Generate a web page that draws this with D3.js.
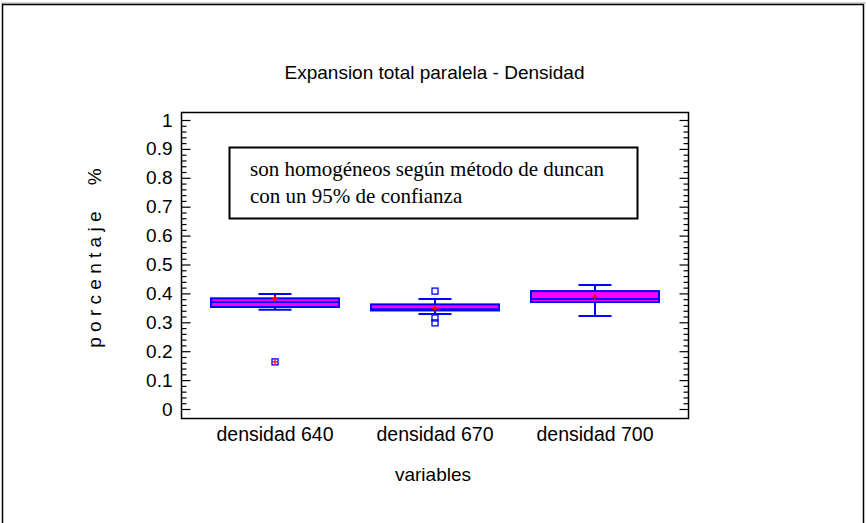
<!DOCTYPE html>
<html>
<head>
<meta charset="utf-8">
<script src="https://cdn.jsdelivr.net/npm/d3@7/dist/d3.min.js"></script>
<style>
  html, body { margin: 0; padding: 0; background: #fff; }
  svg text { font-family: Arial, "Liberation Sans", sans-serif; fill: #000; }
</style>
</head>
<body>
<svg id="chart" width="866" height="523"></svg>
<script>
// Box-plot summaries per density group
const categories = ["densidad 640", "densidad 670", "densidad 700"];
const lowerWhisker = [0.343, 0.329, 0.322];
const q1Values     = [0.353, 0.341, 0.370];
const medians      = [0.370, 0.345, 0.381];
const q3Values     = [0.383, 0.362, 0.408];
const upperWhisker = [0.398, 0.381, 0.429];
const meanValues   = [0.381, 0.349, 0.387];
// Outside points: group index and value
const outlierGroups = [0, 1, 1, 1];
const outlierValues = [0.163, 0.408, 0.315, 0.298];
const yTickValues = [0, 0.1, 0.2, 0.3, 0.4, 0.5, 0.6, 0.7, 0.8, 0.9, 1];
const yTickLabels = ["0", "0.1", "0.2", "0.3", "0.4", "0.5", "0.6", "0.7", "0.8", "0.9", "1"];
const noteLines = ["son homogéneos según método de duncan", "con un 95% de confianza"];

const svg = d3.select("#chart");
const sans = "Arial, 'Liberation Sans', sans-serif";

// Outer frame
svg.append("line").attr("x1", 1).attr("x2", 866).attr("y1", 3).attr("y2", 3)
  .attr("stroke", "#aaa").attr("stroke-width", 1);
svg.append("path").attr("d", "M2.5,530V4.5H863.5V530")
  .attr("fill", "none").attr("stroke", "#000").attr("stroke-width", 1.5);

const plot = { left: 181, right: 688, top: 112, bottom: 418 };

const y = d3.scaleLinear().domain([0, 1]).range([409, 120]);
const x = d3.scaleBand().domain(categories).range([195, 675]).padding(0);
const boxW = x.bandwidth() * 0.8;
const capW = 33;

// Plot frame
svg.append("rect")
  .attr("x", plot.left + 0.5).attr("y", plot.top + 0.5)
  .attr("width", plot.right - plot.left).attr("height", plot.bottom - plot.top)
  .attr("fill", "none").attr("stroke", "#000").attr("stroke-width", 1.5);

// Y ticks (left and right, inward), major every 0.1 and minor every 0.02
const minor = d3.range(0, 51).map(i => i * 0.02).filter(v => Math.abs(v * 10 - Math.round(v * 10)) > 1e-6);
const leftAxis = d3.axisLeft(y).tickValues(yTickValues).tickFormat((d, i) => yTickLabels[i]).tickSize(-9).tickPadding(9);
const gL = svg.append("g").attr("transform", `translate(${plot.left + 0.5},0)`).call(leftAxis);
gL.select(".domain").remove();
gL.selectAll(".tick line").attr("stroke", "#000").attr("stroke-width", 1.2);
gL.selectAll(".tick text").attr("font-size", 19).attr("font-family", sans);

const gLm = svg.append("g").attr("transform", `translate(${plot.left + 0.5},0)`)
  .call(d3.axisLeft(y).tickValues(minor).tickSize(-5).tickFormat(""));
gLm.select(".domain").remove();
gLm.selectAll(".tick line").attr("stroke", "#000").attr("stroke-width", 1.2);

const gR = svg.append("g").attr("transform", `translate(${plot.right + 0.5},0)`)
  .call(d3.axisRight(y).tickValues(yTickValues).tickSize(-9).tickFormat(""));
gR.select(".domain").remove();
gR.selectAll(".tick line").attr("stroke", "#000").attr("stroke-width", 1.2);
const gRm = svg.append("g").attr("transform", `translate(${plot.right + 0.5},0)`)
  .call(d3.axisRight(y).tickValues(minor).tickSize(-5).tickFormat(""));
gRm.select(".domain").remove();
gRm.selectAll(".tick line").attr("stroke", "#000").attr("stroke-width", 1.2);

// X category labels
const gX = svg.append("g").attr("transform", `translate(0,${plot.bottom})`)
  .call(d3.axisBottom(x).tickSize(0).tickPadding(9));
gX.select(".domain").remove();
gX.selectAll(".tick text").attr("font-size", 19.5).attr("font-family", sans);

// Boxes
const blue = "#0000ff";
const boxes = svg.append("g");
categories.forEach((c, i) => {
  const cx = x(c) + x.bandwidth() / 2;
  const g = boxes.append("g");
  // whisker stems
  g.append("line").attr("x1", cx).attr("x2", cx).attr("y1", y(q3Values[i])).attr("y2", y(upperWhisker[i]))
    .attr("stroke", blue).attr("stroke-width", 2);
  g.append("line").attr("x1", cx).attr("x2", cx).attr("y1", y(q1Values[i])).attr("y2", y(lowerWhisker[i]))
    .attr("stroke", blue).attr("stroke-width", 2);
  // caps
  [upperWhisker[i], lowerWhisker[i]].forEach(v => {
    g.append("line").attr("x1", cx - capW / 2).attr("x2", cx + capW / 2).attr("y1", y(v)).attr("y2", y(v))
      .attr("stroke", blue).attr("stroke-width", 2);
  });
  // box
  g.append("rect").attr("x", cx - boxW / 2).attr("y", y(q3Values[i]))
    .attr("width", boxW).attr("height", y(q1Values[i]) - y(q3Values[i]))
    .attr("fill", "#ff00ff").attr("stroke", blue).attr("stroke-width", 2);
  // median
  g.append("line").attr("x1", cx - boxW / 2).attr("x2", cx + boxW / 2).attr("y1", y(medians[i])).attr("y2", y(medians[i]))
    .attr("stroke", blue).attr("stroke-width", 2);
  // mean marker
  const my = y(meanValues[i]);
  g.append("path").attr("d", `M${cx - 3},${my}H${cx + 3}M${cx},${my - 3}V${my + 3}`)
    .attr("stroke", "#ff0000").attr("stroke-width", 1.5);
});

// Outside points
outlierValues.forEach((v, k) => {
  const c = categories[outlierGroups[k]];
  const cx = x(c) + x.bandwidth() / 2;
  const cy = y(v);
  boxes.append("rect").attr("x", cx - 3).attr("y", cy - 3).attr("width", 6).attr("height", 6)
    .attr("fill", "none").attr("stroke", blue).attr("stroke-width", 1.3);
  if (v < lowerWhisker[outlierGroups[k]] - 0.1) {
    boxes.append("path").attr("d", `M${cx - 3},${cy}H${cx + 3}M${cx},${cy - 3}V${cy + 3}`)
      .attr("stroke", "#ff0000").attr("stroke-width", 1.2);
  }
});

// Note box
svg.append("rect").attr("x", 229.5).attr("y", 147.5).attr("width", 408).attr("height", 71)
  .attr("fill", "#fff").attr("stroke", "#000").attr("stroke-width", 2);
const note = svg.append("text").attr("x", 250).attr("y", 176)
  .style("font-family", "'Liberation Serif', 'Times New Roman', serif").attr("font-size", 21);
noteLines.forEach((t, i) => note.append("tspan").attr("x", 250).attr("dy", i === 0 ? 0 : 27).text(t));

// Title and axis titles
svg.append("text").attr("x", 434.5).attr("y", 79).attr("text-anchor", "middle")
  .attr("font-size", 19).text("Expansion total paralela - Densidad");
svg.append("text").attr("x", 433).attr("y", 481).attr("text-anchor", "middle")
  .attr("font-size", 19).text("variables");
svg.append("text").attr("transform", "translate(101,258) rotate(-90)").attr("text-anchor", "middle")
  .attr("font-size", 19).style("white-space", "pre")
  .text("p o r c e n t a j e     %");
</script>
</body>
</html>
